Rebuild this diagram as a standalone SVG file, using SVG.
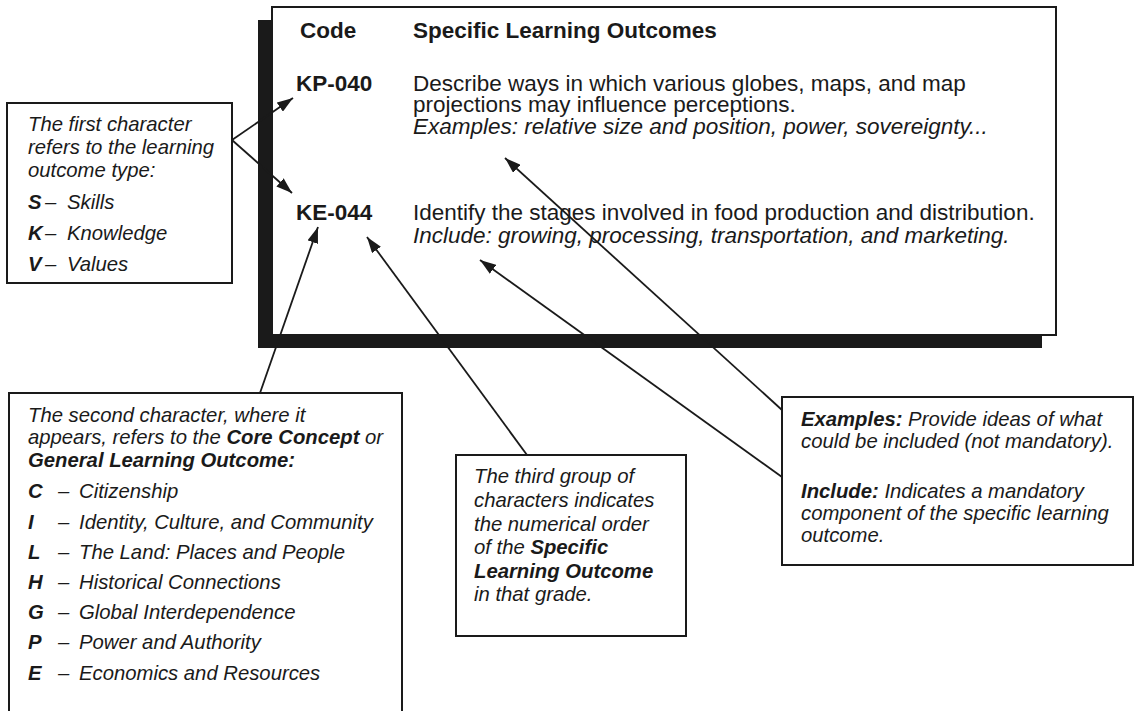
<svg xmlns="http://www.w3.org/2000/svg" width="1135" height="711" viewBox="0 0 1135 711">
<defs>
<marker id="ah" viewBox="0 0 16 11" refX="16" refY="5.5" markerWidth="16" markerHeight="11" markerUnits="userSpaceOnUse" orient="auto">
<path d="M0,0 L16,5.5 L0,11 Z" fill="#1a1a1a"/>
</marker>
<style>
text{font-family:"Liberation Sans",Arial,sans-serif;fill:#1a1a1a}
.m{font-size:22.5px}
.b{font-weight:bold}
.i{font-style:italic}
.s{font-size:20.3px;font-style:italic}
.box{fill:#fff;stroke:#1a1a1a;stroke-width:2}
.ln{stroke:#1a1a1a;stroke-width:1.8;fill:none}
</style>
</defs>
<rect width="1135" height="711" fill="#fff"/>

<g id="main">
<rect x="258" y="20" width="784" height="328" fill="#1a1a1a"/>
<rect class="box" x="272" y="7" width="784" height="328"/>
<text class="m b" x="300" y="38">Code</text>
<text class="m b" x="413" y="38">Specific Learning Outcomes</text>
<text class="m b" x="296" y="91">KP-040</text>
<text class="m" x="413" y="91">Describe ways in which various globes, maps, and map</text>
<text class="m" x="413" y="112">projections may influence perceptions.</text>
<text class="m i" x="413" y="134">Examples: relative size and position, power, sovereignty...</text>
<text class="m b" x="296" y="220">KE-044</text>
<text class="m" x="413" y="220">Identify the stages involved in food production and distribution.</text>
<text class="m i" x="413" y="243">Include: growing, processing, transportation, and marketing.</text>
</g>

<g id="first">
<rect class="box" x="7" y="103" width="225" height="180"/>
<text class="s" x="28" y="131">The first character</text>
<text class="s" x="28" y="154">refers to the learning</text>
<text class="s" x="28" y="177">outcome type:</text>
<text class="s b" x="28" y="209">S</text><text class="s" x="45" y="209">–</text><text class="s" x="67" y="209">Skills</text>
<text class="s b" x="28" y="240">K</text><text class="s" x="45" y="240">–</text><text class="s" x="67" y="240">Knowledge</text>
<text class="s b" x="28" y="271">V</text><text class="s" x="45" y="271">–</text><text class="s" x="67" y="271">Values</text>
</g>

<g id="second">
<rect class="box" x="9" y="393" width="393" height="330"/>
<text class="s" x="28" y="422">The second character, where it</text>
<text class="s" x="28" y="444">appears, refers to the <tspan font-weight="bold">Core Concept</tspan> or</text>
<text class="s b" x="28" y="467">General Learning Outcome:</text>
<text class="s b" x="28" y="498">C</text><text class="s" x="58" y="498">–</text><text class="s" x="79" y="498">Citizenship</text>
<text class="s b" x="28" y="529">I</text><text class="s" x="58" y="529">–</text><text class="s" x="79" y="529">Identity, Culture, and Community</text>
<text class="s b" x="28" y="559">L</text><text class="s" x="58" y="559">–</text><text class="s" x="79" y="559">The Land: Places and People</text>
<text class="s b" x="28" y="589">H</text><text class="s" x="58" y="589">–</text><text class="s" x="79" y="589">Historical Connections</text>
<text class="s b" x="28" y="619">G</text><text class="s" x="58" y="619">–</text><text class="s" x="79" y="619">Global Interdependence</text>
<text class="s b" x="28" y="649">P</text><text class="s" x="58" y="649">–</text><text class="s" x="79" y="649">Power and Authority</text>
<text class="s b" x="28" y="680">E</text><text class="s" x="58" y="680">–</text><text class="s" x="79" y="680">Economics and Resources</text>
</g>

<g id="third">
<rect class="box" x="456" y="455" width="230" height="181"/>
<text class="s" x="474" y="483">The third group of</text>
<text class="s" x="474" y="507">characters indicates</text>
<text class="s" x="474" y="531">the numerical order</text>
<text class="s" x="474" y="554">of the <tspan font-weight="bold">Specific</tspan></text>
<text class="s b" x="474" y="578">Learning Outcome</text>
<text class="s" x="474" y="601">in that grade.</text>
</g>

<g id="examples">
<rect class="box" x="782" y="397" width="351" height="168"/>
<text class="s" x="801" y="426"><tspan font-weight="bold">Examples:</tspan> Provide ideas of what</text>
<text class="s" x="801" y="448">could be included (not mandatory).</text>
<text class="s" x="801" y="498"><tspan font-weight="bold">Include:</tspan> Indicates a mandatory</text>
<text class="s" x="801" y="520">component of the specific learning</text>
<text class="s" x="801" y="542">outcome.</text>
</g>

<g id="connectors">
<line class="ln" x1="232" y1="140" x2="293" y2="98" marker-end="url(#ah)"/>
<line class="ln" x1="232" y1="140" x2="292" y2="193" marker-end="url(#ah)"/>
<line class="ln" x1="260" y1="393" x2="318" y2="227" marker-end="url(#ah)"/>
<line class="ln" x1="527" y1="455" x2="367" y2="237" marker-end="url(#ah)"/>
<line class="ln" x1="782" y1="410" x2="505" y2="158" marker-end="url(#ah)"/>
<line class="ln" x1="782" y1="477" x2="480" y2="260" marker-end="url(#ah)"/>
</g>
</svg>
